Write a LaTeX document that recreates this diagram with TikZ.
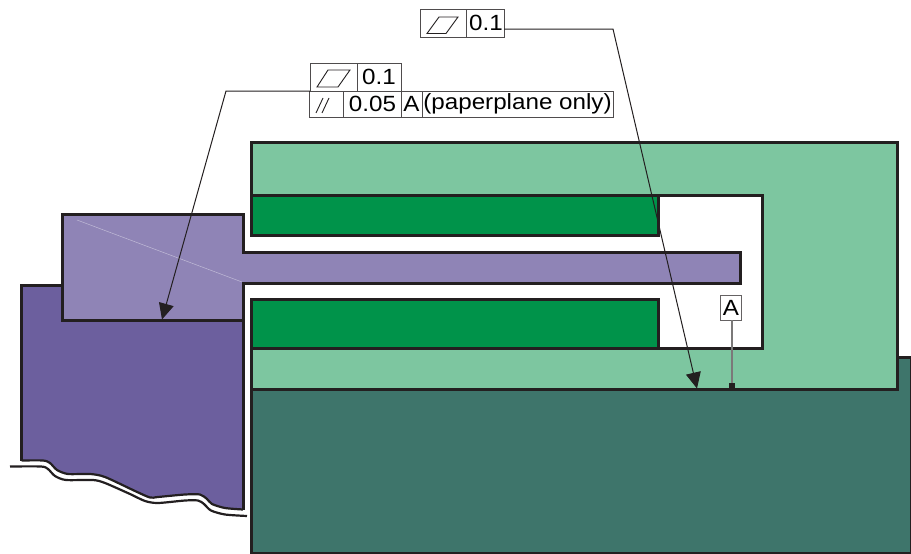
\documentclass[tikz,border=0pt]{standalone}
\usepackage{fontspec}
\setmainfont[FakeStretch=1.1]{Liberation Sans}
\usetikzlibrary{arrows.meta,calc}
\definecolor{ink}{HTML}{231F20}
\definecolor{lgreen}{HTML}{7DC6A0}
\definecolor{dgreen}{HTML}{00934A}
\definecolor{teal2}{HTML}{3E756B}
\definecolor{lpurple}{HTML}{8F84B6}
\definecolor{dpurple}{HTML}{6C5F9E}
\tikzset{
  part/.style={draw=ink,line width=3pt,line join=miter},
  cellbox/.style={draw=ink!80,line width=0.9pt,fill=white,inner sep=0pt,outer sep=0pt,font=\fontsize{22}{24}\selectfont},
  leader/.style={draw=ink,line width=1pt},
  sym/.style={draw=ink,line width=0.9pt},
  headtip/.style={-{Triangle[length=16pt,width=15pt]}}
}
\begin{document}
\begin{tikzpicture}[x=1pt,y=-1pt]
\useasboundingbox (0,0) rectangle (911,554);
% dark purple base
\fill[dpurple] (21.5,285) -- (243,285) -- (243,509.5) -- plot[smooth,tension=0.45] coordinates {(243,509.5) (225,508) (212,504) (207,499) (200,494.5) (185,494.5) (158,497) (150,497.5) (135,491) (105,477) (90,474) (68,474) (57,470) (50,463) (43,460.5) (21.5,460.5)} -- cycle;
\draw[part] (21.5,460.5) -- (21.5,285) -- (62,285);
\draw[part] (243,320) -- (243,509.5);
\draw[part,line width=2.2pt] plot[smooth,tension=0.45] coordinates {(243,509.5) (225,508) (212,504) (207,499) (200,494.5) (185,494.5) (158,497) (150,497.5) (135,491) (105,477) (90,474) (68,474) (57,470) (50,463) (43,460.5) (21.5,460.5)};
\draw[part,line width=2.2pt] plot[smooth,tension=0.45] coordinates {(247,516) (225,514.5) (211,510.5) (204,504) (198,500.5) (185,500.5) (158,503) (145,501) (130,494) (105,483) (93,480) (66,480) (55,476) (48,469) (41,466.5) (10,466.5)};
% dark teal base
\draw[part,fill=teal2] (251,389) -- (897,389) -- (897,357) -- (911,357) -- (911,553) -- (251,553) -- cycle;
% light green body with white cavity
\fill[lgreen] (251,142) rectangle (897,389);
\fill[white] (251,195) rectangle (762,348);
\draw[part] (251,195) -- (251,142) -- (897,142) -- (897,389) -- (251,389) -- (251,348) -- (762,348) -- (762,195) -- (251,195);
% dark green blocks
\draw[part,fill=dgreen] (251,195) rectangle (658,235);
\draw[part,fill=dgreen] (251,299) rectangle (658,348);
% light purple part
\draw[part,fill=lpurple] (62,214) -- (243,214) -- (243,252) -- (740,252) -- (740,283) -- (243,283) -- (243,320) -- (62,320) -- cycle;
\draw[line width=0.5pt,color=lpurple!55!white] (77,220) -- (242,282);
% top feature control frame
\node[cellbox,minimum width=46pt,minimum height=28pt] (topsym) at (443,23) {};
\node[cellbox,minimum width=38pt,minimum height=28pt] (topval) at (485,23) {\kern2pt\raisebox{-1.5pt}{0.1}};
\draw[sym] (427,33.5) -- (446,33.5) -- (458,17) -- (439,17) -- cycle;
% left feature control frame
\node[cellbox,minimum width=47pt,minimum height=28pt] (upsym) at (333.5,77) {};
\node[cellbox,minimum width=44pt,minimum height=28pt] (upval) at (379,77) {0.1};
\node[cellbox,minimum width=34pt,minimum height=26pt] (parsym) at (326,104) {};
\node[cellbox,minimum width=58pt,minimum height=26pt] (parval) at (372,104) {\kern1pt\raisebox{-1pt}{0.05}};
\node[cellbox,minimum width=21pt,minimum height=26pt] (datref) at (411.5,104) {\raisebox{-1pt}{A}};
\node[cellbox,minimum width=191pt,minimum height=26pt] (note) at (517.5,104) {\raisebox{-1pt}{(paperplane only)}};
\draw[sym] (317,87) -- (338,87) -- (350,70) -- (328,70) -- cycle;
\draw[sym] (316,113) -- (323,98);
\draw[sym] (322,113) -- (329,98);
% leaders
\coordinate (bendtop) at (613,29);
\coordinate (tiptop) at (697,388.5);
\coordinate (bendleft) at (226,91);
\coordinate (tipleft) at (162,319.5);
\draw[leader,headtip] (topval.east |- bendtop) -- (bendtop) -- (tiptop);
\draw[leader,headtip] (upsym.west |- bendleft) -- (bendleft) -- (tipleft);
% datum
\node[cellbox,draw=ink!70,minimum width=21pt,minimum height=25pt] (datum) at (730.5,307.5) {\kern1pt\raisebox{-1pt}{A}};
\node[fill=ink,inner sep=0pt,minimum width=6.5pt,minimum height=6pt,outer sep=0pt] (foot) at (732,386) {};
\draw[line width=1.1pt,color=ink!60] (datum.south -| foot) -- (foot);
\end{tikzpicture}
\end{document}
